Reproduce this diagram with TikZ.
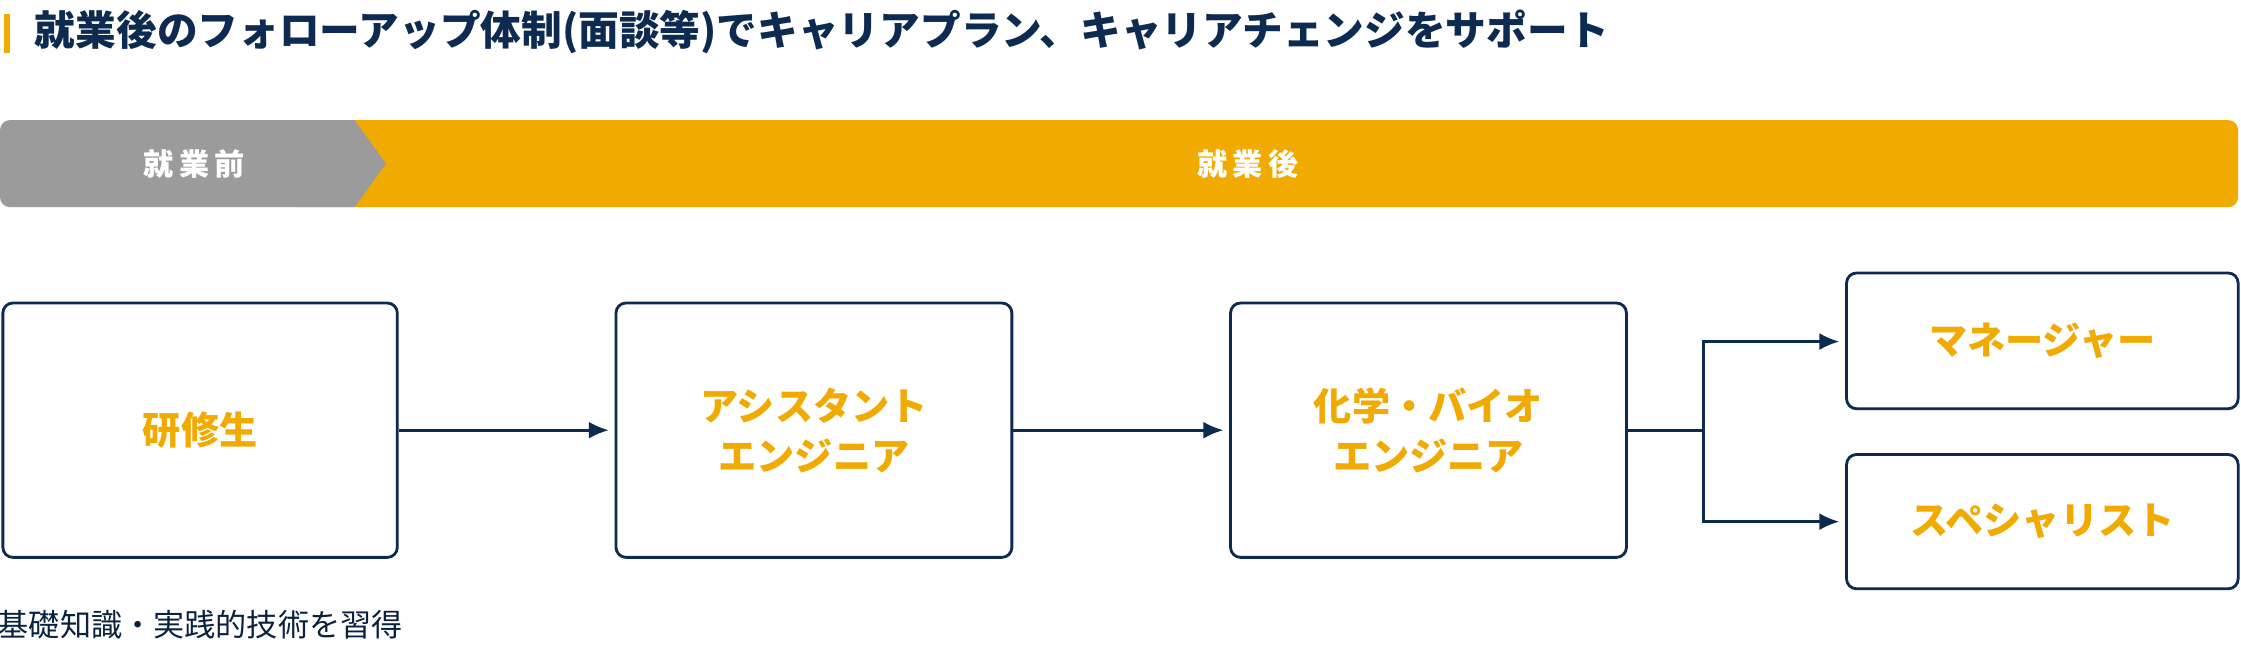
\documentclass[tikz,border=0pt]{standalone}
\usetikzlibrary{arrows.meta}
\usepackage{fontspec}
\setmainfont{Noto Sans CJK JP}
\definecolor{navy}{HTML}{0D2A50}
\definecolor{org}{HTML}{F0AA00}
\definecolor{gry}{HTML}{9B9B9B}
\begin{document}
\begin{tikzpicture}[x=0.05cm,y=-0.05cm,
 box/.style={draw=navy,line width=2.8pt,rounded corners=10pt,fill=white},
 lbl/.style={text=org,font=\fontsize{38}{50}\selectfont\bfseries,align=center},
 ban/.style={text=white,font=\fontsize{30}{34}\selectfont\bfseries\addfontfeature{LetterSpace=18}},
 arr/.style={draw=navy,line width=2.8pt,-{Latex[length=20pt,width=17pt]}},
 ln/.style={draw=navy,line width=2.8pt}]
\useasboundingbox (0,0) rectangle (1568,456);
\fill[org] (3,10) rectangle (7,37);
\node[anchor=west,text=navy,font=\fontsize{40.5}{46}\selectfont\bfseries] (t) at (22,22) {就業後のフォローアップ体制(面談等)でキャリアプラン、キャリアチェンジをサポート};
\fill[org,rounded corners=10pt] (200,84) -- (1566,84) -- (1566,145) -- (200,145) -- cycle;
\fill[gry] (270,114.5) -- (248,84) [rounded corners=10pt] -- (0,84) -- (0,145) [sharp corners] -- (248,145) -- cycle;
\node[ban] (b1) at (136,114.5) {就業前};
\node[ban] (b2) at (873,114.5) {就業後};
\draw[box] (2,212) rectangle (278,390);
\draw[box] (431,212) rectangle (708,390);
\draw[box] (861,212) rectangle (1138,390);
\draw[box] (1292,191) rectangle (1566,286);
\draw[box] (1292,318) rectangle (1566,412);
\node[lbl] (n1) at (140,301) {研修生};
\node[lbl] (n2) at (569.5,301) {アシスタント\\エンジニア};
\node[lbl] (n3) at (999.5,301) {化学・バイオ\\エンジニア};
\node[lbl] (n4) at (1429,238.5) {マネージャー};
\node[lbl] (n5) at (1429,365) {スペシャリスト};
\coordinate (a1) at (279,301); \coordinate (a2) at (426,301);
\coordinate (c1) at (709,301); \coordinate (c2) at (856,301);
\coordinate (d0) at (1139,301); \coordinate (j) at (1192,301);
\coordinate (e1) at (1287,239); \coordinate (e2) at (1287,365);
\draw[arr] (a1) -- (a2);
\draw[arr] (c1) -- (c2);
\draw[ln] (d0) -- (j);
\draw[arr] (j) |- (e1);
\draw[arr] (j) |- (e2);
\node[anchor=west,text=navy!80!black,font=\fontsize{31}{36}\selectfont] (bt) at (-4,437) {基礎知識・実践的技術を習得};
\end{tikzpicture}
\end{document}
